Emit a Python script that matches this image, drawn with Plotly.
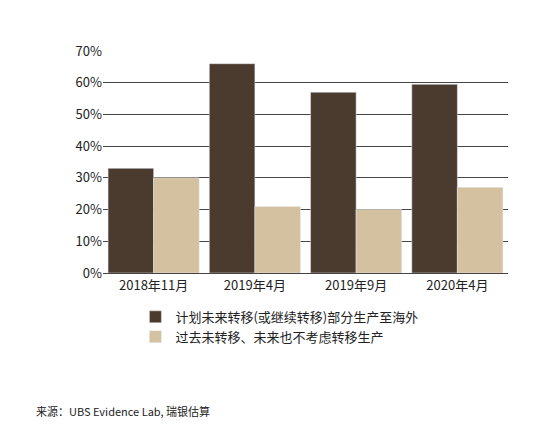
import plotly.graph_objects as go

categories = ["2018年11月", "2019年4月", "2019年9月", "2020年4月"]
plan_shift = [33, 66, 57, 59.5]
no_shift = [30, 21, 20, 27]
series_names = ["计划未来转移(或继续转移)部分生产至海外", "过去未转移、未来也不考虑转移生产"]
tick_vals = [0, 10, 20, 30, 40, 50, 60, 70]
tick_text = [f"{v}%" for v in tick_vals]

font = "Noto Sans CJK SC"
fig = go.Figure()
fig.add_bar(x=categories, y=plan_shift, name=series_names[0], marker_color="#4b3b2f")
fig.add_bar(x=categories, y=no_shift, name=series_names[1], marker_color="#d3c19f")
fig.update_layout(
    width=546, height=430, barmode="group", bargap=0.1, bargroupgap=0,
    paper_bgcolor="white", plot_bgcolor="white",
    margin=dict(l=95, r=46, t=43, b=165),
    font=dict(family=font, size=13, color="#222"),
    showlegend=True,
    legend=dict(orientation="v", x=0.08, y=-0.13, xanchor="left", yanchor="top",
                font=dict(size=13), itemwidth=30, tracegroupgap=0),
    yaxis=dict(range=[0, 70], tickvals=tick_vals, ticktext=tick_text, showgrid=True,
               gridcolor="#444", gridwidth=1, zeroline=False, ticks="", ticklen=0,
               tickfont=dict(size=13)),
    xaxis=dict(showline=True, linecolor="#444", ticks="", tickfont=dict(size=13)),
)
fig.add_annotation(text="来源：UBS Evidence Lab, 瑞银估算", xref="paper", yref="paper",
                   x=-0.17, y=-0.62, xanchor="left", yanchor="middle", showarrow=False,
                   font=dict(size=11, family=font))
fig.write_html("out.html")
